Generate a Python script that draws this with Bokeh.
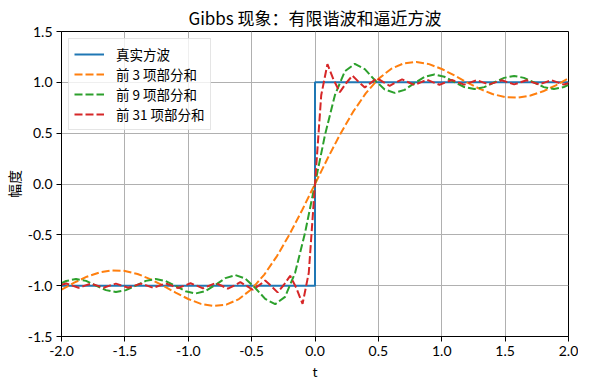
from bokeh.plotting import figure
from bokeh.models import FixedTicker, NumeralTickFormatter, Range1d, Legend, LegendItem
from bokeh.embed import file_html
from bokeh.resources import INLINE

title_text = "Gibbs 现象：有限谐波和逼近方波"
x_label = "t"
y_label = "幅度"
series_names = ["真实方波", "前 3 项部分和", "前 9 项部分和", "前 31 项部分和"]
series_colors = ["#1f77b4", "#ff7f0e", "#2ca02c", "#d62728"]
x_ticks = [-2.0, -1.5, -1.0, -0.5, 0.0, 0.5, 1.0, 1.5, 2.0]
y_ticks = [-1.5, -1.0, -0.5, 0.0, 0.5, 1.0, 1.5]

# true square wave
t_square = [-2.0, 0.0, 0.0, 2.0]
y_square = [-1.0, -1.0, 1.0, 1.0]

# partial sum, 3 terms
t_3 = [-2.0, -1.9, -1.8, -1.7, -1.6, -1.5, -1.4, -1.3, -1.2, -1.1, -1.0,
       -0.9, -0.8, -0.7, -0.6, -0.5, -0.4, -0.3, -0.2, -0.1, 0.0,
       0.1, 0.2, 0.3, 0.4, 0.5, 0.6, 0.7, 0.8, 0.9, 1.0,
       1.1, 1.2, 1.3, 1.4, 1.5, 1.6, 1.7, 1.8, 1.9, 2.0]
y_3 = [-1.039, -0.971, -0.912, -0.870, -0.850, -0.855, -0.885, -0.935, -0.999, -1.068, -1.131,
       -1.179, -1.200, -1.187, -1.132, -1.034, -0.891, -0.709, -0.493, -0.253, 0.0,
       0.253, 0.493, 0.709, 0.891, 1.034, 1.132, 1.187, 1.200, 1.179, 1.131,
       1.068, 0.999, 0.935, 0.885, 0.855, 0.850, 0.870, 0.912, 0.971, 1.039]

# partial sum, 9 terms
t_9 = [-2.000, -1.963, -1.885, -1.806, -1.728, -1.649, -1.571, -1.492, -1.414, -1.335,
       -1.257, -1.178, -1.100, -1.021, -0.942, -0.864, -0.785, -0.707, -0.628, -0.550,
       -0.471, -0.393, -0.314, -0.236, -0.157, -0.079, 0.0,
       0.079, 0.157, 0.236, 0.314, 0.393, 0.471, 0.550, 0.628, 0.707, 0.785,
       0.864, 0.942, 1.021, 1.100, 1.178, 1.257, 1.335, 1.414, 1.492, 1.571,
       1.649, 1.728, 1.806, 1.885, 1.963, 2.000]
y_9 = [-0.975, -0.954, -0.934, -0.953, -0.999, -1.044, -1.063, -1.044, -0.999, -0.953,
       -0.934, -0.954, -1.003, -1.055, -1.077, -1.053, -0.992, -0.926, -0.896, -0.930,
       -1.023, -1.130, -1.182, -1.110, -0.874, -0.483, 0.0,
       0.483, 0.874, 1.110, 1.182, 1.130, 1.023, 0.930, 0.896, 0.926, 0.992,
       1.053, 1.077, 1.055, 1.003, 0.954, 0.934, 0.953, 0.999, 1.044, 1.063,
       1.044, 0.999, 0.953, 0.934, 0.954, 0.975]

# partial sum, 31 terms
t_31 = [-2.000, -1.963, -1.914, -1.865, -1.816, -1.767, -1.718, -1.669, -1.620, -1.571,
        -1.522, -1.473, -1.424, -1.374, -1.325, -1.276, -1.227, -1.178, -1.129, -1.080,
        -1.031, -0.982, -0.933, -0.884, -0.834, -0.785, -0.736, -0.687, -0.638, -0.589,
        -0.540, -0.491, -0.442, -0.393, -0.344, -0.295, -0.245, -0.196, -0.147, -0.098,
        -0.049, 0.0,
        0.049, 0.098, 0.147, 0.196, 0.245, 0.295, 0.344, 0.393, 0.442, 0.491,
        0.540, 0.589, 0.638, 0.687, 0.736, 0.785, 0.834, 0.884, 0.933, 0.982,
        1.031, 1.080, 1.129, 1.178, 1.227, 1.276, 1.325, 1.374, 1.424, 1.473,
        1.522, 1.571, 1.620, 1.669, 1.718, 1.767, 1.816, 1.865, 1.914, 1.963,
        2.000]
y_31 = [-0.991, -0.978, -1.000, -1.021, -1.000, -0.980, -1.000, -1.020, -1.000, -0.980,
        -1.000, -1.020, -1.000, -0.980, -1.000, -1.021, -1.000, -0.978, -1.000, -1.023,
        -1.000, -0.976, -1.000, -1.026, -1.000, -0.975, -1.001, -1.029, -0.999, -0.966,
        -1.002, -1.040, -0.997, -0.950, -1.005, -1.066, -0.991, -0.903, -1.024, -1.179,
        -0.873, 0.0,
        0.873, 1.179, 1.024, 0.903, 0.991, 1.066, 1.005, 0.950, 0.997, 1.040,
        1.002, 0.966, 0.999, 1.029, 1.001, 0.975, 1.000, 1.026, 1.000, 0.976,
        1.000, 1.023, 1.000, 0.978, 1.000, 1.021, 1.000, 0.980, 1.000, 1.020,
        1.000, 0.980, 1.000, 1.020, 1.000, 0.980, 1.000, 1.021, 1.000, 0.978,
        0.991]

CJK = "Noto Sans CJK SC"
NUM = "Lato"

p = figure(frame_width=507, frame_height=305,
           x_range=Range1d(-2.0, 2.0), y_range=Range1d(-1.5, 1.5),
           output_backend="svg", toolbar_location=None,
           min_border_left=56, min_border_right=10,
           min_border_top=30, min_border_bottom=45,
           title=title_text)

p.title.align = "center"
p.title.text_font = CJK
p.title.text_font_size = "17px"
p.title.text_font_style = "normal"
p.title.text_color = "black"
p.title.standoff = 4

p.outline_line_color = "black"
p.outline_line_width = 1
p.outline_line_alpha = 1

for ax, ticks in ((p.xaxis[0], x_ticks), (p.yaxis[0], y_ticks)):
    ax.ticker = FixedTicker(ticks=ticks)
    ax.formatter = NumeralTickFormatter(format="0.0")
    ax.major_tick_in = 0
    ax.major_tick_out = 5
    ax.minor_tick_line_color = None
    ax.axis_line_color = "black"
    ax.major_tick_line_color = "black"
    ax.major_label_text_font = NUM
    ax.major_label_text_font_size = "14px"
    ax.major_label_text_color = "black"
    ax.major_label_standoff = 4
    ax.axis_label_text_font_size = "14px"
    ax.axis_label_text_font_style = "normal"
    ax.axis_label_text_color = "black"

p.xaxis.axis_label = x_label
p.xaxis.axis_label_text_font = NUM
p.yaxis.axis_label = y_label
p.yaxis.axis_label_text_font = CJK
p.xaxis.major_label_standoff = 4
p.xaxis.axis_label_standoff = 4
p.yaxis.axis_label_standoff = 1

p.xgrid.ticker = FixedTicker(ticks=x_ticks)
p.ygrid.ticker = FixedTicker(ticks=y_ticks)
for g in (p.xgrid[0], p.ygrid[0]):
    g.grid_line_color = "#b0b0b0"
    g.grid_line_width = 1
    g.grid_line_alpha = 1

r0 = p.line(t_square, y_square, line_color=series_colors[0], line_width=2)
r1 = p.line(t_3, y_3, line_color=series_colors[1], line_width=2, line_dash="8 3")
r2 = p.line(t_9, y_9, line_color=series_colors[2], line_width=2, line_dash="8 3")
r3 = p.line(t_31, y_31, line_color=series_colors[3], line_width=2, line_dash="8 3")

legend = Legend(items=[LegendItem(label=n, renderers=[r]) for n, r in zip(series_names, [r0, r1, r2, r3])],
                location="top_left")
legend.margin = 7
legend.padding = 5
legend.spacing = 0
legend.label_height = 20
legend.glyph_height = 20
legend.glyph_width = 30
legend.label_standoff = 12
legend.label_text_font = CJK
legend.label_text_font_size = "13.5px"
legend.label_text_color = "black"
legend.border_line_color = "#cccccc"
legend.border_line_width = 1
legend.background_fill_color = "white"
legend.background_fill_alpha = 0.8
p.add_layout(legend)

open("out.html", "w").write(file_html(p, INLINE))
